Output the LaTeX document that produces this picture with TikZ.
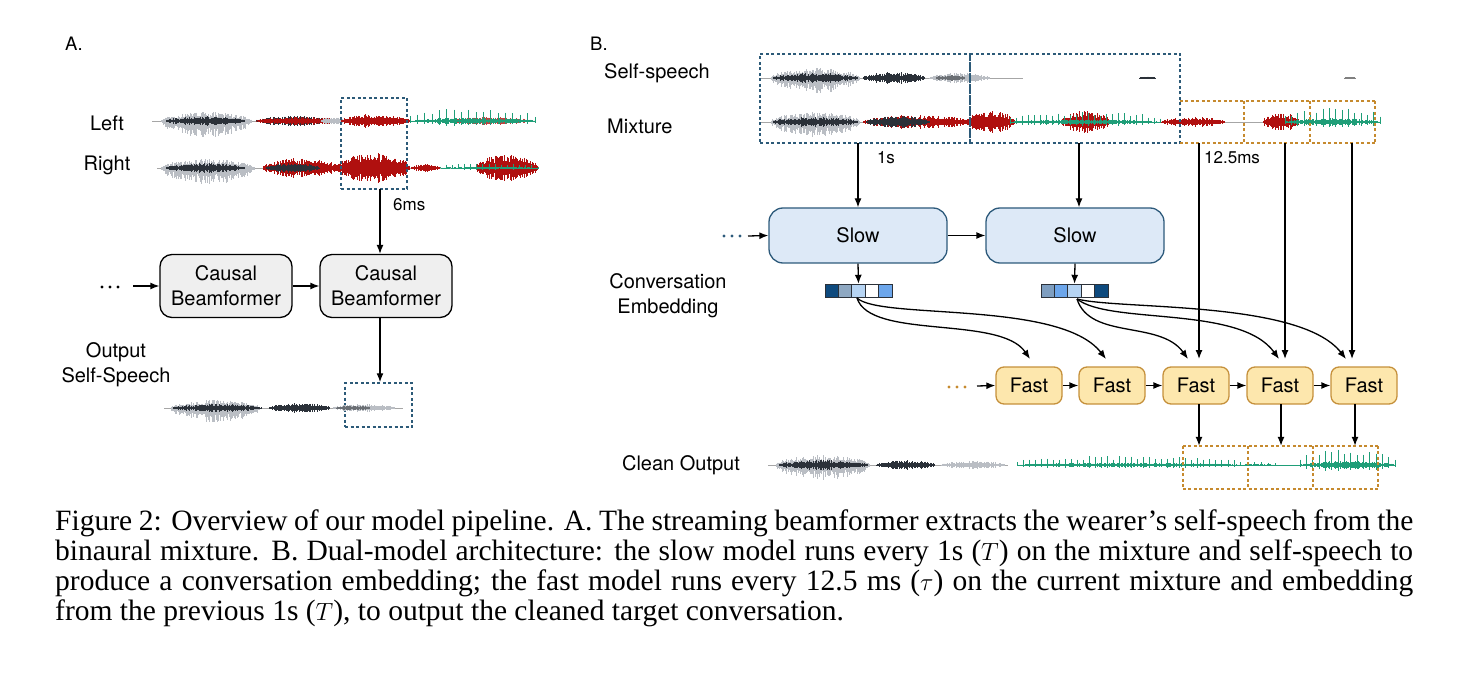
\documentclass[tikz,border=0pt]{standalone}
\usepackage{fontspec}
\setmainfont{Liberation Serif}
\newfontfamily\hv{TeX Gyre Heros}
\usetikzlibrary{arrows.meta}
\definecolor{darkw}{HTML}{2B3139}
\definecolor{greyw}{HTML}{BABEC4}
\definecolor{redw}{HTML}{B0100F}
\definecolor{greenw}{HTML}{1F9E78}
\definecolor{bluedash}{HTML}{2C5A78}
\definecolor{orangedash}{HTML}{C68A2E}
\definecolor{slowfill}{HTML}{DDE9F7}
\definecolor{slowdraw}{HTML}{2D5A7B}
\definecolor{fastfill}{HTML}{FDE7AD}
\definecolor{fastdraw}{HTML}{C5903B}
\definecolor{cbfill}{HTML}{EFEFEF}
\definecolor{ea}{HTML}{0E4A7E}
\definecolor{eb}{HTML}{8EA8C2}
\definecolor{ec}{HTML}{B6D4F3}
\definecolor{ed}{HTML}{6CA6EB}
\definecolor{ef}{HTML}{7E9EC0}
\newcommand\wseg[6]{%
  \pgfmathtruncatemacro\wn{max(2,(#2-#1)/1.0)}%
  \foreach \i in {0,...,\wn}{%
    \pgfmathsetmacro\wt{\i/\wn}%
    \pgfmathsetmacro\wx{#1+(#2-#1)*\wt}%
    \pgfmathsetmacro\wh{#4*sqrt(abs(sin(180*\wt)))*(0.4+0.6*rnd)}%
    \draw[#5,line width=0.8pt] (\wx,#3-\wh) -- (\wx,#3+#6*\wh);%
  }}
\newcommand\wper[6]{%
  \wseg{#1}{#2}{#3}{#4*0.25}{#5}{1}%
  \pgfmathtruncatemacro\wn{max(2,(#2-#1)/#6)}%
  \foreach \i in {0,...,\wn}{%
    \pgfmathsetmacro\wt{\i/\wn}%
    \pgfmathsetmacro\wx{#1+(#2-#1)*\wt}%
    \pgfmathsetmacro\wh{#4*(0.4+0.6*sqrt(abs(sin(180*\wt))))*(0.6+0.4*rnd)}%
    \draw[#5,line width=0.9pt] (\wx,#3-\wh) -- (\wx,#3+0.4*\wh);%
  }}
\tikzset{
  lab/.style={font={\hv\fontsize{20}{25}\selectfont}, inner sep=0pt, align=center},
  smlab/.style={font={\hv\fontsize{17}{20}\selectfont}, inner sep=0pt},
  arr/.style={line width=1.3pt, -{Latex[length=9pt,width=7pt]}},
  cbbox/.style={lab, draw=black, line width=1.3pt, fill=cbfill, rounded corners=12pt, minimum width=132pt, minimum height=63pt},
  slowbox/.style={lab, draw=slowdraw, line width=1.3pt, fill=slowfill, rounded corners=14pt, minimum width=178pt, minimum height=55pt},
  fastbox/.style={lab, draw=fastdraw, line width=1.3pt, fill=fastfill, rounded corners=8pt, minimum width=66pt, minimum height=37pt},
  bdash/.style={draw=bluedash, line width=1.5pt, dash pattern=on 3pt off 2.5pt, inner sep=0pt},
  odashline/.style={draw=orangedash, line width=1.5pt, dash pattern=on 3pt off 2.5pt},
  slot/.style={inner sep=0pt},
  wbase/.style={line width=0.6pt, gray!70},
  captext/.style={font={\fontsize{29.5}{30}\selectfont}, inner sep=0pt, anchor=base west},
}
\begin{document}
\begin{tikzpicture}[x=1pt,y=-1pt]
\useasboundingbox (0,0) rectangle (1467,676);
\pgfmathsetseed{7}
% ---------------- Panel A ----------------
\node[lab, font={\hv\fontsize{18.5}{22}\selectfont}, anchor=west] (labA) at (65,44) {A.};
\node[lab] (lleft) at (107,123) {Left};
\node[lab] (lright) at (107,165) {Right};
% Left waveform
\draw[wbase] (152,121) -- (535,121);
\wseg{160}{252}{121}{9}{greyw}{1.8}
\wseg{165}{245}{121}{5}{darkw}{1}
\wseg{255}{330}{121}{5}{darkw}{1}
\wseg{255}{345}{121}{4}{redw}{1}
\wseg{320}{345}{121}{4}{greyw}{1}
\wseg{340}{410}{121}{7}{redw}{1}
\wseg{440}{535}{121}{4}{redw!80}{1}
\wper{410}{535}{121}{13}{greenw}{7}
% Right waveform
\draw[wbase] (157,168) -- (538,168);
\wseg{160}{255}{168}{9}{greyw}{1.8}
\wseg{165}{245}{168}{5}{darkw}{1}
\wseg{262}{340}{168}{10}{redw}{1}
\wseg{265}{320}{168}{5}{darkw}{1}
\wseg{335}{410}{168}{15}{redw}{1}
\wseg{410}{440}{168}{4}{redw}{1}
\wseg{475}{538}{168}{14}{redw}{1}
\wper{440}{538}{168}{5}{greenw}{6}
\node[bdash, minimum width=66pt, minimum height=91pt] (winA) at (374,143.5) {};
\coordinate (a6) at (380,189);
\node[smlab, anchor=west] (t6ms) at (393,205) {6ms};
\node[cbbox] (cb1) at (226,286) {Causal\\Beamformer};
\node[cbbox] (cb2) at (386,286) {Causal\\Beamformer};
\draw[arr] (a6) -- (a6 |- cb2.north);
\fill (102,287) circle (1.6pt) (110,287) circle (1.6pt) (118,287) circle (1.6pt);
\coordinate (dotsA) at (133,286);
\draw[arr] (dotsA) -- (cb1.west);
\draw[arr] (cb1) -- (cb2);
\node[lab] (outlab) at (116,365) {Output\\Self-Speech};
\node[bdash, minimum width=67pt, minimum height=44pt] (outA) at (378.5,405) {};
\draw[arr] (cb2.south -| a6) -- (outA.north -| a6);
% output waveform
\draw[wbase] (164,408) -- (403,408);
\wseg{170}{260}{408}{8}{greyw}{1.8}
\wseg{172}{262}{408}{4}{darkw}{1}
\wseg{268}{330}{408}{5}{darkw}{1}
\wseg{332}{395}{408}{4}{greyw}{1}
\wseg{335}{370}{408}{2.5}{darkw!70}{1}
% ---------------- Panel B ----------------
\node[lab, font={\hv\fontsize{18.5}{22}\selectfont}, anchor=west] (labB) at (590,44) {B.};
\node[lab, anchor=west] (lself) at (604,73) {Self-speech};
\node[lab, anchor=west] (lmix) at (607,126) {Mixture};
% self-speech waveform
\draw[wbase] (760,78) -- (1023,78);
\wseg{770}{860}{78}{10}{greyw}{1.5}
\wseg{772}{858}{78}{5}{darkw}{1}
\wseg{862}{925}{78}{6}{darkw}{1}
\wseg{928}{990}{78}{5}{greyw}{1}
\wseg{935}{965}{78}{3}{darkw!70}{1}
\wseg{1138}{1156}{78}{1.5}{darkw}{1}
\wseg{1343}{1356}{78}{1}{gray}{1}
% mixture waveform
\draw[wbase] (760,122) -- (1380,122);
\wseg{770}{860}{122}{10}{greyw}{1.5}
\wseg{772}{858}{122}{5}{darkw}{1}
\wseg{862}{970}{122}{7}{redw}{1}
\wseg{865}{930}{122}{6}{darkw}{1}
\wseg{965}{1015}{122}{11}{redw}{1}
\wseg{1060}{1110}{122}{11}{redw}{1}
\wper{1010}{1160}{122}{10}{greenw}{6}
\wseg{1160}{1225}{122}{5}{redw}{1}
\wseg{1262}{1300}{122}{9}{redw}{1}
\wper{1285}{1380}{122}{15}{greenw}{6}
% windows
\node[bdash, minimum width=210pt, minimum height=89pt] (win1) at (865,98.5) {};
\node[bdash, minimum width=210pt, minimum height=89pt] (win2) at (1075,98.5) {};
\node[slot, minimum width=64pt, minimum height=42pt] (o1) at (1212,122) {};
\node[slot, minimum width=66pt, minimum height=42pt] (o2) at (1277,122) {};
\node[slot, minimum width=65pt, minimum height=42pt] (o3) at (1342.5,122) {};
\draw[odashline] (o1.north west) -- (o3.north east) (o1.south west) -- (o3.south east)
  (o2.north west) -- (o2.south west) (o3.north west) -- (o3.south west) (o3.north east) -- (o3.south east);
\node[smlab] (t1s) at (886,158) {1s};
\node[smlab, anchor=west] (t125) at (1204,158) {12.5ms};
% slow models
\node[slowbox] (slow1) at (858,235.5) {Slow};
\node[slowbox] (slow2) at (1075,235.5) {Slow};
\coordinate (w1out) at (858,143);
\coordinate (w2out) at (1079,143);
\draw[arr] (w1out) -- (w1out |- slow1.north);
\draw[arr] (w2out) -- (w2out |- slow2.north);
\fill[slowdraw] (724,236) circle (1.6pt) (732,236) circle (1.6pt) (740,236) circle (1.6pt);
\coordinate (dotsB) at (748,236);
\draw[arr] (dotsB) -- (slow1.west);
\draw[arr] (slow1) -- (slow2);
\node[lab] (convlab) at (668,296) {Conversation\\Embedding};
% embeddings
\node[inner sep=0pt, minimum width=67pt, minimum height=13pt] (emb1) at (858.5,290.5) {};
\node[inner sep=0pt, minimum width=67pt, minimum height=13pt] (emb2) at (1074.5,290.5) {};
\foreach \c [count=\k from 0] in {ea,eb,ec,white,ed}
  \draw[fill=\c, draw=darkw, line width=0.8pt] (825+13.4*\k,284) rectangle ++(13.4,13);
\foreach \c [count=\k from 0] in {ef,ed,ec,white,ea}
  \draw[fill=\c, draw=darkw, line width=0.8pt] (1041+13.4*\k,284) rectangle ++(13.4,13);
\draw[arr] (slow1.south) -- (emb1.north);
\draw[arr] (slow2.south) -- (emb2.north);
% fast models
\node[fastbox] (fast1) at (1029,385.5) {Fast};
\node[fastbox] (fast2) at (1112,385.5) {Fast};
\node[fastbox] (fast3) at (1196,385.5) {Fast};
\node[fastbox] (fast4) at (1280,385.5) {Fast};
\node[fastbox] (fast5) at (1364,385.5) {Fast};
\fill[orangedash] (949,387) circle (1.6pt) (957,387) circle (1.6pt) (965,387) circle (1.6pt);
\coordinate (dotsC) at (977,386);
\draw[arr] (dotsC) -- (fast1.west);
\draw[arr] (fast1) -- (fast2);
\draw[arr] (fast2) -- (fast3);
\draw[arr] (fast3) -- (fast4);
\draw[arr] (fast4) -- (fast5);
% curves from embeddings
\coordinate (e1s) at (857,298);
\coordinate (e2s) at (1077,299);
\coordinate (f1in) at (1030,359);
\coordinate (f2in) at (1106,359);
\coordinate (f3in) at (1188,359);
\coordinate (f4in) at (1279,359);
\coordinate (f5in) at (1346,359);
\draw[arr] (e1s) .. controls (870,340) and (1000,315) .. (f1in);
\draw[arr] (e1s) .. controls (880,320) and (1060,300) .. (f2in);
\draw[arr] (e2s) .. controls (1090,340) and (1160,320) .. (f3in);
\draw[arr] (e2s) .. controls (1110,325) and (1240,305) .. (f4in);
\draw[arr] (e2s) .. controls (1120,310) and (1300,300) .. (f5in);
% vertical inputs
\coordinate (v3) at (1199,143);
\coordinate (v4) at (1285,143);
\coordinate (v5) at (1352,143);
\draw[arr] (v3) -- (1199,359);
\draw[arr] (v4) -- (1285,359);
\draw[arr] (v5) -- (1352,359);
% clean output
\node[lab] (cleanlab) at (681,465) {Clean Output};
\draw[wbase] (768,465) -- (1008,465);
\wseg{775}{870}{465}{10}{greyw}{1.5}
\wseg{778}{868}{465}{5}{darkw}{1}
\wseg{875}{935}{465}{5}{darkw}{1}
\wseg{940}{1005}{465}{4}{greyw}{1}
\draw[greenw, line width=0.6pt] (1017,465) -- (1395,465);
\wper{1017}{1240}{465}{9}{greenw}{6}
\wper{1240}{1275}{465}{4}{greenw}{6}
\wper{1300}{1395}{465}{16}{greenw}{6}
\node[slot, minimum width=65pt, minimum height=43pt] (b1) at (1215.5,467.5) {};
\node[slot, minimum width=65pt, minimum height=43pt] (b2) at (1280.5,467.5) {};
\node[slot, minimum width=65pt, minimum height=43pt] (b3) at (1345.5,467.5) {};
\draw[odashline] (b1.north west) -- (b3.north east) (b1.south west) -- (b3.south east)
  (b1.north west) -- (b1.south west) (b2.north west) -- (b2.south west)
  (b3.north west) -- (b3.south west) (b3.north east) -- (b3.south east);
\coordinate (d3) at (1199,404);
\coordinate (d4) at (1281,404);
\coordinate (d5) at (1355,404);
\draw[arr] (d3) -- (d3 |- b1.north);
\draw[arr] (d4) -- (d4 |- b2.north);
\draw[arr] (d5) -- (d5 |- b3.north);
% caption
\node[captext] (cap1) at (55,530) {\makebox[1358pt][s]{Figure 2: Overview of our model pipeline. A. The streaming beamformer extracts the wearer’s self-speech from the}};
\node[captext] (cap2) at (55,560) {\makebox[1358pt][s]{binaural mixture. B. Dual-model architecture: the slow model runs every 1s ($T$) on the mixture and self-speech to}};
\node[captext] (cap3) at (55,590) {\makebox[1358pt][s]{produce a conversation embedding; the fast model runs every 12.5 ms ($\tau$) on the current mixture and embedding}};
\node[captext] (cap4) at (55,620) {from the previous 1s ($T$), to output the cleaned target conversation.};
\end{tikzpicture}
\end{document}
